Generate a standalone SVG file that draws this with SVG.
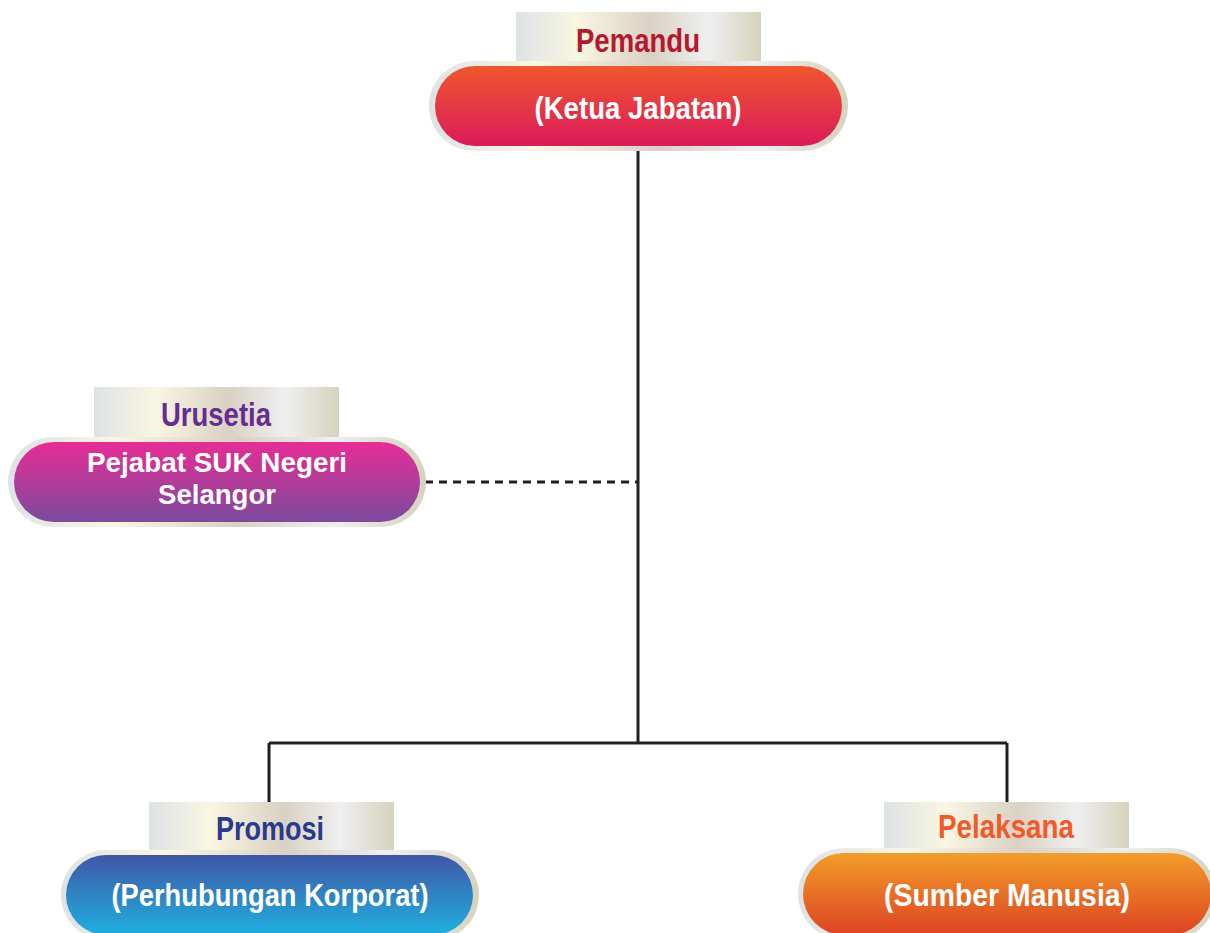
<svg xmlns="http://www.w3.org/2000/svg" width="1210" height="933" viewBox="0 0 1210 933">
<defs>
<linearGradient id="metal" x1="0" y1="0" x2="1" y2="0">
<stop offset="0" stop-color="#dde2e5"/>
<stop offset="0.25" stop-color="#f9f6e2"/>
<stop offset="0.55" stop-color="#d9d1c4"/>
<stop offset="0.78" stop-color="#efeff0"/>
<stop offset="1" stop-color="#d6d3bc"/>
</linearGradient>
<linearGradient id="gTop" x1="0" y1="0" x2="0" y2="1">
<stop offset="0" stop-color="#ef572c"/>
<stop offset="1" stop-color="#db1a5c"/>
</linearGradient>
<linearGradient id="gLeft" x1="0" y1="0" x2="0" y2="1">
<stop offset="0" stop-color="#e72d95"/>
<stop offset="1" stop-color="#7b4a9e"/>
</linearGradient>
<linearGradient id="gBL" x1="0" y1="0" x2="0" y2="1">
<stop offset="0" stop-color="#3f57a7"/>
<stop offset="1" stop-color="#1fb0df"/>
</linearGradient>
<linearGradient id="gBR" x1="0" y1="0" x2="0" y2="1">
<stop offset="0" stop-color="#f29d2a"/>
<stop offset="1" stop-color="#dd4222"/>
</linearGradient>
</defs>
<style>
text{font-family:"Liberation Sans Narrow","Liberation Sans",Arial,sans-serif;font-weight:bold;text-anchor:middle}
.lbl{font-size:33px}
.main{font-size:32px;fill:#ffffff}
.two{font-size:28px}
.conn{stroke:#231f20;stroke-width:3;fill:none}
</style>
<rect width="1210" height="933" fill="#ffffff"/>
<g id="connectors">
<path class="conn" d="M638 150 V743 M269 743 H1007 M269 743 V803 M1007 743 V803"/>
<path class="conn" d="M425 482 H637" stroke-dasharray="8 6"/>
</g>
<g id="node-pemandu">
<rect x="516" y="12" width="245" height="50" fill="url(#metal)"/>
<text class="lbl" x="638" y="52" fill="#b5192e" textLength="124" lengthAdjust="spacingAndGlyphs">Pemandu</text>
<rect x="429" y="61" width="419" height="90" rx="45" fill="url(#metal)"/>
<rect x="435" y="66" width="407" height="80" rx="40" fill="url(#gTop)"/>
<text class="main" x="638" y="119" textLength="207" lengthAdjust="spacingAndGlyphs">(Ketua Jabatan)</text>
</g>
<g id="node-urusetia">
<rect x="94" y="387" width="245" height="51" fill="url(#metal)"/>
<text class="lbl" x="216" y="426" fill="#662d91" textLength="110" lengthAdjust="spacingAndGlyphs">Urusetia</text>
<rect x="8" y="437" width="418" height="90" rx="45" fill="url(#metal)"/>
<rect x="14" y="442" width="406" height="80" rx="40" fill="url(#gLeft)"/>
<text class="main two" x="217" y="472" textLength="260" lengthAdjust="spacingAndGlyphs">Pejabat SUK Negeri</text>
<text class="main two" x="217" y="504" textLength="118" lengthAdjust="spacingAndGlyphs">Selangor</text>
</g>
<g id="node-promosi">
<rect x="149" y="802" width="245" height="49" fill="url(#metal)"/>
<text class="lbl" x="270" y="840" fill="#283a8e" textLength="108" lengthAdjust="spacingAndGlyphs">Promosi</text>
<rect x="61" y="850" width="418" height="90" rx="45" fill="url(#metal)"/>
<rect x="66" y="855" width="407" height="80" rx="40" fill="url(#gBL)"/>
<text class="main" x="270" y="906" textLength="317" lengthAdjust="spacingAndGlyphs">(Perhubungan Korporat)</text>
</g>
<g id="node-pelaksana">
<rect x="884" y="802" width="245" height="47" fill="url(#metal)"/>
<text class="lbl" x="1006" y="838" fill="#f15a29" textLength="136" lengthAdjust="spacingAndGlyphs">Pelaksana</text>
<rect x="798" y="848" width="418" height="92" rx="46" fill="url(#metal)"/>
<rect x="803" y="853" width="408" height="82" rx="41" fill="url(#gBR)"/>
<text class="main" x="1007" y="906" textLength="246" lengthAdjust="spacingAndGlyphs">(Sumber Manusia)</text>
</g>
</svg>
